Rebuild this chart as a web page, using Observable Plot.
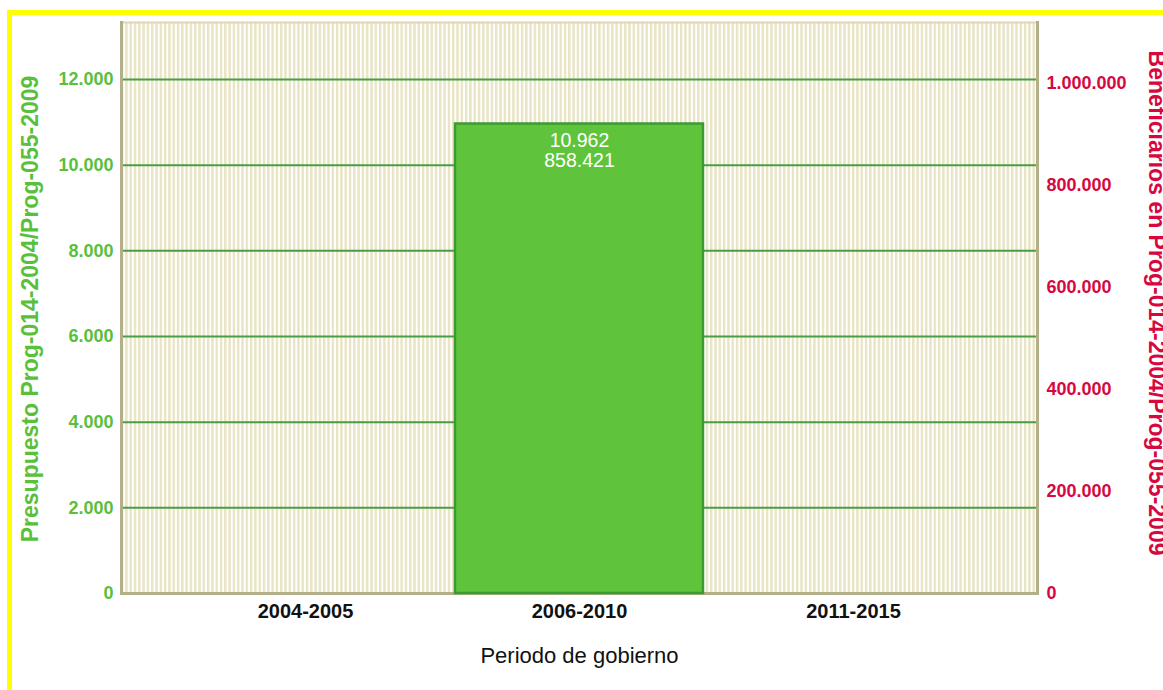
<!DOCTYPE html>
<html>
<head>
<meta charset="utf-8">
<script src="https://cdn.jsdelivr.net/npm/d3@7"></script>
<script src="https://cdn.jsdelivr.net/npm/@observablehq/plot@0.6"></script>
<style>
  html, body { margin: 0; padding: 0; background: #ffffff; }
  #wrap { position: relative; width: 1163px; height: 690px; overflow: hidden; font-family: "Liberation Sans", Arial, sans-serif; }
  #border { position: absolute; left: 7px; top: 10px; width: 1200px; height: 800px;
            border-top: 5px solid #ffff00; border-left: 5px solid #ffff00; pointer-events: none; }
</style>
</head>
<body>
<div id="wrap"><div id="border"></div></div>
<script>
// ---- data ----
const periods = ["2004-2005", "2006-2010", "2011-2015"];
const presupuesto = [0, 10962, 0];
const beneficiarios = [0, 858421, 0];
const leftTicks = [0, 2000, 4000, 6000, 8000, 10000, 12000];
const rightTicks = [0, 200000, 400000, 600000, 800000, 1000000];
const leftTitle = "Presupuesto Prog-014-2004/Prog-055-2009";
const rightTitle = "Beneficiarios en Prog-014-2004/Prog-055-2009";
const xTitle = "Periodo de gobierno";

// right-axis value -> left-axis scale equivalent
const factor = 0.011907;

const rows = periods.map((p, i) => ({period: p, presupuesto: presupuesto[i], beneficiarios: beneficiarios[i]}));
const fmt = d3.formatLocale({decimal: ",", thousands: ".", grouping: [3], currency: ["", ""]}).format(",");

const green = "#5abf3b";
const crimson = "#d6083f";

const chart = Plot.plot({
  width: 1163,
  height: 690,
  marginLeft: 121,
  marginRight: 126,
  marginTop: 22,
  marginBottom: 97,
  style: {fontFamily: "'Liberation Sans', Arial, sans-serif", background: "transparent", overflow: "visible"},
  x: {type: "band", domain: periods, paddingInner: 0.0965, paddingOuter: 0.217, label: null},
  y: {domain: [0, 13332], label: null},
  marks: [
    Plot.frame({fill: "url(#stripes)", stroke: "none"}),
    Plot.frame({anchor: "top", stroke: "#dcd8b6", strokeWidth: 2}),
    Plot.ruleY(leftTicks.filter(d => d > 0), {stroke: "#4a9d45", strokeWidth: 2}),
    Plot.frame({anchor: "left", stroke: "#b3af88", strokeWidth: 3}),
    Plot.frame({anchor: "right", stroke: "#b3af88", strokeWidth: 3}),
    Plot.frame({anchor: "bottom", stroke: "#b3af88", strokeWidth: 3}),
    Plot.barY(rows.filter(d => d.presupuesto > 0), {x: "period", y: "presupuesto", fill: "#5fc43c", stroke: "#3c9a33", strokeWidth: 2.5}),
    Plot.text(rows.filter(d => d.presupuesto > 0), {
      x: "period", y: "presupuesto",
      text: d => fmt(d.presupuesto) + "\n" + fmt(d.beneficiarios),
      fill: "white", fontSize: 19.5, lineAnchor: "top", lineHeight: 1.05, dy: 8
    }),
    Plot.axisY(leftTicks, {anchor: "left", tickSize: 0, tickPadding: 8, tickFormat: d => fmt(d),
      fill: green, fontSize: 18, fontWeight: "bold", label: null}),
    Plot.axisY(rightTicks.map(r => r * factor), {anchor: "right", tickSize: 0, tickPadding: 9,
      tickFormat: d => fmt(Math.round(d / factor / 1000) * 1000),
      fill: crimson, fontSize: 18, fontWeight: "bold", label: null}),
    Plot.axisX({anchor: "bottom", tickSize: 0, tickPadding: 10, fill: "#111", fontSize: 20, fontWeight: "bold", label: null}),
    Plot.text([leftTitle], {frameAnchor: "left", textAnchor: "middle", rotate: -90, dx: -91, dy: 1, fill: green,
      fontSize: 23, fontWeight: "bold", text: d => d}),
    Plot.text([rightTitle], {frameAnchor: "right", textAnchor: "middle", rotate: 90, dx: 119, dy: -5, fill: crimson,
      fontSize: 23, fontWeight: "bold", text: d => d}),
    Plot.text([xTitle], {frameAnchor: "bottom", dy: 69, fill: "#111", fontSize: 22, text: d => d})
  ]
});

// stripe pattern for the plot background
const svg = d3.select(chart);
const defs = svg.insert("defs", ":first-child");
const pat = defs.append("pattern").attr("id", "stripes").attr("patternUnits", "userSpaceOnUse")
  .attr("width", 4.3).attr("height", 10);
pat.append("rect").attr("width", 4.3).attr("height", 10).attr("fill", "#ffffff");
pat.append("rect").attr("width", 2.4).attr("height", 10).attr("fill", "#e8e4c4");

const wrap = document.getElementById("wrap");
wrap.insertBefore(chart, wrap.firstChild);
chart.style.position = "absolute";
chart.style.left = "0px";
chart.style.top = "0px";
</script>
</body>
</html>
